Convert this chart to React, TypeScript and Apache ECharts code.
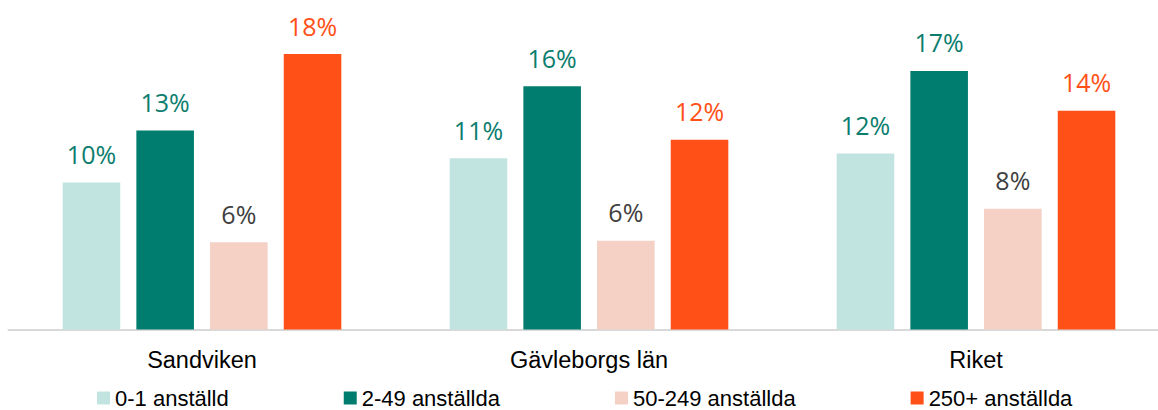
import React, { useEffect, useRef } from "react";
import * as echarts from "echarts";

const categories = ["Sandviken", "Gävleborgs län", "Riket"];
const seriesNames = ["0-1 anställd", "2-49 anställda", "50-249 anställda", "250+ anställda"];
const values01 = [9.6, 11.2, 11.5];
const values249 = [13.0, 15.9, 16.9];
const values50249 = [5.7, 5.8, 7.9];
const values250 = [18.0, 12.4, 14.3];

const barColors = ["#C2E4E0", "#007D6E", "#F4D0C5", "#FF5117"];
const labelColors = ["#0B7D6E", "#0B7D6E", "#404040", "#FF5117"];

export default function App() {
  const ref = useRef<HTMLDivElement>(null);
  useEffect(() => {
    if (!ref.current) return;
    const chart = echarts.init(ref.current, null, { renderer: "svg" });
    const allValues = [values01, values249, values50249, values250];
    chart.setOption({
      animation: false,
      grid: { left: 8.5, top: 23.5, width: 1161, height: 306, containLabel: false },
      legend: {
        left: 97,
        top: 387,
        padding: 0,
        itemWidth: 13,
        itemHeight: 13,
        itemGap: 115,
        icon: "rect",
        textStyle: {
          fontFamily: "Liberation Sans, Arial, sans-serif",
          fontSize: 22,
          lineHeight: 20,
          color: "#000",
        },
        data: seriesNames,
      },
      xAxis: {
        type: "category",
        data: categories,
        axisTick: { show: false },
        axisLine: { lineStyle: { color: "#D9D9D9", width: 2 } },
        axisLabel: {
          margin: 18,
          fontFamily: "Liberation Sans, Arial, sans-serif",
          fontSize: 23.5,
          color: "#000",
        },
      },
      yAxis: { type: "value", min: 0, max: 20, show: false, splitLine: { show: false } },
      series: seriesNames.map((name, i) => ({
        name,
        type: "bar",
        data: allValues[i],
        barGap: "28%",
        barCategoryGap: "28%",
        itemStyle: { color: barColors[i] },
        label: {
          show: true,
          position: "top",
          distance: 16,
          fontFamily: "Open Sans, sans-serif",
          fontSize: 25,
          color: labelColors[i],
          formatter: (p: any) => Math.round(p.value) + "%",
        },
      })),
    });
    return () => chart.dispose();
  }, []);
  return (
    <div
      style={{
        position: "absolute",
        left: 0,
        top: 0,
        width: 1158,
        height: 410,
        overflow: "hidden",
        background: "#fff",
      }}
    >
      <div ref={ref} style={{ width: 1180, height: 410 }} />
    </div>
  );
}
